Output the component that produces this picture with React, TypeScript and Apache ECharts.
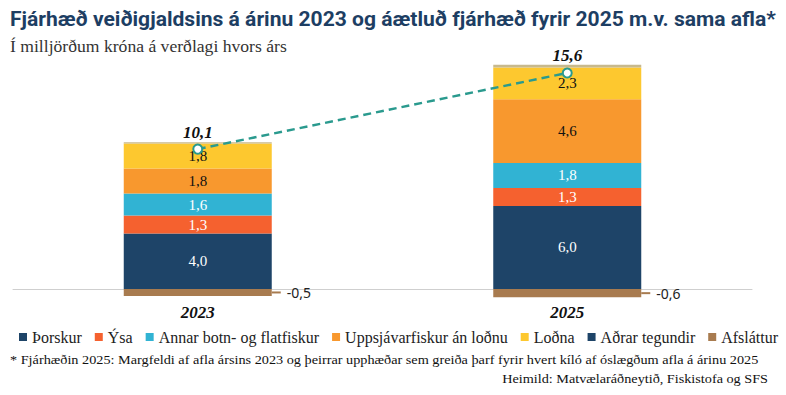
import React, { useEffect, useRef } from "react";
import * as echarts from "echarts";

const categories = ["2023", "2025"];
const thorskur = [4.0, 6.0];
const ysa = [1.3, 1.3];
const annar = [1.6, 1.8];
const uppsjavar = [1.8, 4.6];
const lodna = [1.8, 2.3];
const adrar = [0.1, 0.2];
const afslattur = [-0.5, -0.6];
const totals = [10.1, 15.6];

const TITLE = "Fjárhæð veiðigjaldsins á árinu 2023 og áætluð fjárhæð fyrir 2025 m.v. sama afla*";
const SUBTITLE = "Í milljörðum króna á verðlagi hvors árs";
const NOTE = "* Fjárhæðin 2025: Margfeldi af afla ársins 2023 og þeirrar upphæðar sem greiða þarf fyrir hvert kíló af óslægðum afla á árinu 2025";
const SOURCE = "Heimild: Matvælaráðneytið, Fiskistofa og SFS";

const NAVY = "#1e4468";
const SERIF = "'Liberation Serif', 'Times New Roman', serif";
const fmt = (v: number) => v.toFixed(1).replace(".", ",");

function measure(text: string, font: string): number {
  const ctx = document.createElement("canvas").getContext("2d");
  if (!ctx) return 0;
  ctx.font = font;
  return ctx.measureText(text).width;
}

function fitScale(text: string, font: string, target: number): number {
  const w = measure(text, font);
  return w > 0 ? target / w : 1;
}

export default function App() {
  const ref = useRef<HTMLDivElement>(null);
  useEffect(() => {
    if (!ref.current) return;
    const chart = echarts.init(ref.current, undefined, { renderer: "svg" });
    const inside = (color: string) => ({
      show: true,
      position: "inside" as const,
      color,
      fontFamily: SERIF,
      fontSize: 15,
      formatter: (p: any) => fmt(p.value),
    });
    const bar = (name: string, data: number[], color: string, labelColor: string) => ({
      name,
      type: "bar",
      stack: "total",
      barWidth: 148,
      data,
      itemStyle: { color },
      label: inside(labelColor),
      emphasis: { disabled: true },
    });

    const titleScale = fitScale(TITLE, "bold 20px Roboto", 766);
    const subScale = fitScale(SUBTITLE, "17px " + SERIF, 277);
    const noteScale = fitScale(NOTE, "13.5px " + SERIF, 749);
    const srcScale = fitScale(SOURCE, "13.5px " + SERIF, 266);

    const option: any = {
      animation: false,
      grid: { left: 13, right: 34, top: 289 - 17 * 13.85, bottom: 395 - (289 + 13.85) },
      xAxis: {
        type: "category",
        data: categories,
        axisLine: { onZero: true, lineStyle: { color: "#cfcfcf", width: 1 } },
        axisTick: { show: false },
        axisLabel: {
          margin: 1,
          fontFamily: SERIF,
          fontStyle: "italic",
          fontWeight: "bold",
          fontSize: 17,
          color: "#111",
        },
      },
      yAxis: {
        type: "value",
        min: -1,
        max: 17,
        show: false,
        splitLine: { show: false },
      },
      legend: {
        left: 14,
        top: 324,
        itemWidth: 8,
        itemHeight: 8,
        itemGap: 13,
        icon: "rect",
        textStyle: { fontFamily: SERIF, fontSize: 16, color: "#222" },
        data: [
          "Þorskur",
          "Ýsa",
          "Annar botn- og flatfiskur",
          "Uppsjávarfiskur án loðnu",
          "Loðna",
          { name: "Aðrar tegundir", itemStyle: { color: NAVY } },
          "Afsláttur",
        ],
      },
      series: [
        bar("Þorskur", thorskur, NAVY, "#fff"),
        bar("Ýsa", ysa, "#f5612f", "#fff"),
        bar("Annar botn- og flatfiskur", annar, "#31b3d3", "#fff"),
        bar("Uppsjávarfiskur án loðnu", uppsjavar, "#f8982e", "#111"),
        bar("Loðna", lodna, "#fdc82f", "#111"),
        {
          name: "Aðrar tegundir",
          type: "bar",
          stack: "total",
          barWidth: 148,
          data: adrar,
          itemStyle: { color: "#c8b98c" },
          emphasis: { disabled: true },
          label: {
            show: true,
            position: "top",
            distance: 1,
            formatter: (p: any) => fmt(totals[p.dataIndex]),
            fontFamily: SERIF,
            fontStyle: "italic",
            fontWeight: "bold",
            fontSize: 17,
            color: "#111",
          },
        },
        {
          name: "Afsláttur",
          type: "bar",
          stack: "total",
          barWidth: 148,
          data: afslattur,
          itemStyle: { color: "#a87b4f" },
          emphasis: { disabled: true },
          label: {
            show: true,
            position: "right",
            distance: 0,
            formatter: (p: any) => `{d|}{v|${fmt(afslattur[p.dataIndex])}}`,
            rich: {
              d: { width: 9, height: 2, backgroundColor: "#a87b4f" },
              v: { padding: [0, 0, 0, 6], fontSize: 14, fontFamily: "Noto Sans", color: "#222" },
            },
          },
        },
        {
          name: "Samtals",
          type: "line",
          data: totals,
          z: 10,
          symbol: "circle",
          symbolSize: 9,
          lineStyle: { type: [8, 5], width: 2.5, color: "#2a9a8e" },
          itemStyle: { color: "#fff", borderColor: "#2a9a8e", borderWidth: 2 },
          emphasis: { disabled: true },
          label: { show: false },
        },
      ],
      graphic: [
        {
          type: "text",
          x: 10,
          y: 19,
          scaleX: titleScale,
          style: {
            text: TITLE,
            fontFamily: "Roboto",
            fontWeight: "bold",
            fontSize: 20,
            fill: "#1d3e63",
            textVerticalAlign: "middle",
          },
        },
        {
          type: "text",
          x: 10,
          y: 47,
          scaleX: subScale,
          style: {
            text: SUBTITLE,
            fontFamily: SERIF,
            fontSize: 17,
            fill: "#333",
            textVerticalAlign: "middle",
          },
        },
        {
          type: "text",
          x: 10,
          y: 360,
          scaleX: noteScale,
          style: {
            text: NOTE,
            fontFamily: SERIF,
            fontSize: 13.5,
            fill: "#111",
            textVerticalAlign: "middle",
          },
        },
        {
          type: "text",
          x: 768,
          y: 379,
          scaleX: srcScale,
          style: {
            text: SOURCE,
            fontFamily: SERIF,
            fontSize: 13.5,
            fill: "#111",
            textAlign: "right",
            textVerticalAlign: "middle",
          },
        },
      ],
    };
    chart.setOption(option);
    return () => chart.dispose();
  }, []);
  return (
    <div
      ref={ref}
      style={{ position: "fixed", left: 0, top: 0, width: 786, height: 395, background: "#fff" }}
    />
  );
}
